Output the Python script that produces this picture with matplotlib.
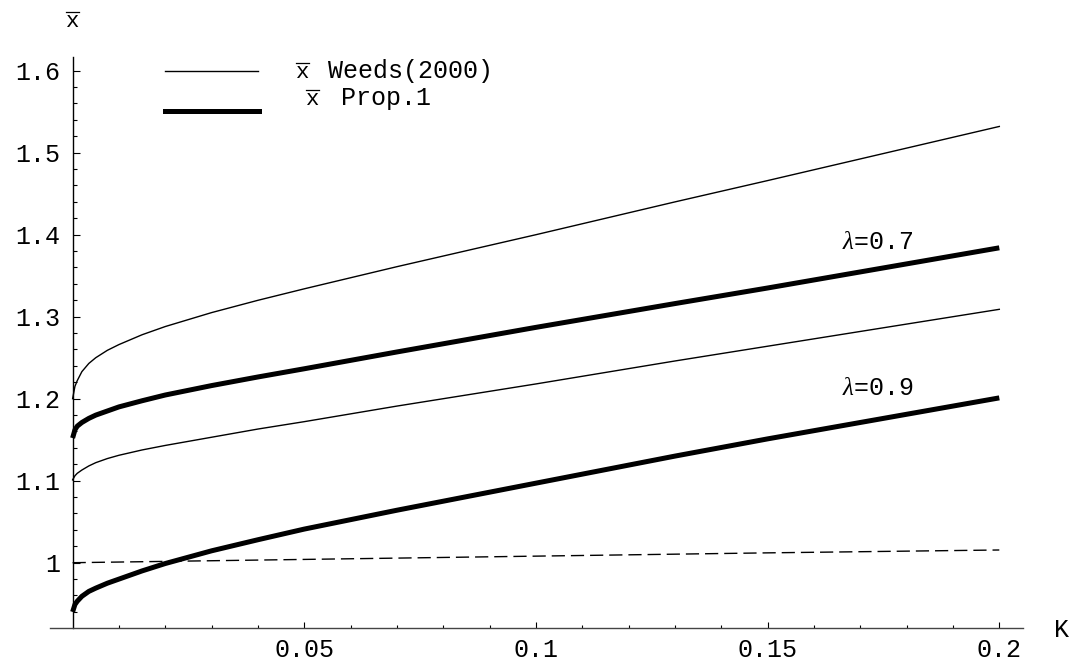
import matplotlib
matplotlib.use("Agg")
import matplotlib.pyplot as plt
from matplotlib.lines import Line2D
from matplotlib.ticker import FixedLocator

plt.rcParams['font.family'] = 'Liberation Mono'
plt.rcParams['mathtext.fontset'] = 'custom'
plt.rcParams['mathtext.rm'] = 'Liberation Mono'
plt.rcParams['mathtext.it'] = 'Liberation Serif:italic'

# values
K = [0, 0.0005, 0.001, 0.002, 0.0035, 0.005, 0.0075, 0.01, 0.015, 0.02,
     0.03, 0.04, 0.05, 0.07, 0.1, 0.13, 0.15, 0.2]
weeds_07 = [1.200, 1.215, 1.222, 1.233, 1.243, 1.250, 1.259, 1.266, 1.278, 1.288,
            1.305, 1.320, 1.334, 1.361, 1.400, 1.440, 1.466, 1.532]
prop_07 = [1.152, 1.162, 1.1665, 1.171, 1.176, 1.180, 1.185, 1.190, 1.1975, 1.2045,
           1.216, 1.2265, 1.2365, 1.257, 1.287, 1.316, 1.335, 1.384]
weeds_09 = [1.101, 1.106, 1.109, 1.113, 1.118, 1.122, 1.127, 1.131, 1.1375, 1.143,
            1.153, 1.163, 1.172, 1.191, 1.218, 1.246, 1.264, 1.309]
prop_09 = [0.940, 0.949, 0.953, 0.959, 0.965, 0.969, 0.975, 0.980, 0.990, 0.999,
           1.0145, 1.028, 1.041, 1.064, 1.097, 1.130, 1.151, 1.201]

K_dash = [0, 0.05, 0.1, 0.15, 0.2]
ref_line = [1.0, 1.004, 1.008, 1.012, 1.0155]

x_major = [0.05, 0.1, 0.15, 0.2]
x_labels = ["0.05", "0.1", "0.15", "0.2"]
y_major = [1.0, 1.1, 1.2, 1.3, 1.4, 1.5, 1.6]
y_labels = ["1", "1.1", "1.2", "1.3", "1.4", "1.5", "1.6"]

W, H = 1075, 665
FS = 18


def fx(px):
    return px / W


def fy(py):
    return 1 - py / H


def xbar(fig, cx, base):
    # "x" with a bar over it, placed in pixel coords
    fig.text(fx(cx), fy(base), 'x', fontsize=16, ha='center', va='baseline')
    fig.add_artist(Line2D([fx(cx - 6.5), fx(cx + 6.5)], [fy(base - 15)] * 2,
                          color='black', lw=0.9))


fig = plt.figure(figsize=(W / 100, H / 100), dpi=100)
ax = fig.add_axes([fx(50), fy(628.3), (1022.7 - 50) / W, (628.3 - 57) / H])

thin = 1.0
thick = 3.6
ax.plot(K, weeds_07, color='black', lw=thin)
ax.plot(K, weeds_09, color='black', lw=thin)
ax.plot(K, prop_07, color='black', lw=thick, solid_capstyle='butt')
ax.plot(K, prop_09, color='black', lw=thick, solid_capstyle='butt')
ax.plot(K_dash, ref_line, color='black', lw=1.0, dashes=[9.5, 4.3])

ax.set_xlim(-0.00488, 0.20505)
ax.set_ylim(0.92, 1.6167)

for s in ['top', 'right']:
    ax.spines[s].set_visible(False)
ax.spines['left'].set_position(('data', 0))
ax.spines['left'].set_linewidth(1.0)
ax.spines['bottom'].set_linewidth(1.0)
ax.spines['bottom'].set_color('#444444')

ax.set_xticks(x_major, x_labels)
ax.set_yticks(y_major, y_labels)
ax.xaxis.set_minor_locator(FixedLocator([i / 100 for i in range(1, 20) if i % 5]))
ax.yaxis.set_minor_locator(FixedLocator([0.94 + i * 0.02 for i in range(34) if i % 5 != 3]))
ax.tick_params(axis='both', which='both', direction='in', width=0.8, labelsize=FS)
ax.tick_params(axis='x', which='major', length=4.2, pad=7)
ax.tick_params(axis='x', which='minor', length=2.4)
ax.tick_params(axis='y', which='major', length=4.8, pad=9)
ax.tick_params(axis='y', which='minor', length=3.0)

# curve labels
ax.text(0.1661, 1.382, r'$\lambda$=0.7', fontsize=FS, ha='left', va='baseline')
ax.text(0.1661, 1.2041, r'$\lambda$=0.9', fontsize=FS, ha='left', va='baseline')

# axis names
xbar(fig, 72.7, 27)
fig.text(fx(1054), fy(636.7), 'K', fontsize=FS, ha='left', va='baseline')

# legend
fig.add_artist(Line2D([fx(165), fx(258)], [fy(71), fy(71)], color='black', lw=thin))
fig.add_artist(Line2D([fx(165), fx(259)], [fy(111), fy(111)], color='black', lw=thick))
xbar(fig, 302.5, 78.3)
fig.text(fx(328), fy(78.3), 'Weeds(2000)', fontsize=FS, va='baseline')
xbar(fig, 312.5, 105)
fig.text(fx(341), fy(105), 'Prop.1', fontsize=FS, va='baseline')

fig.savefig('out.png', dpi=100)
